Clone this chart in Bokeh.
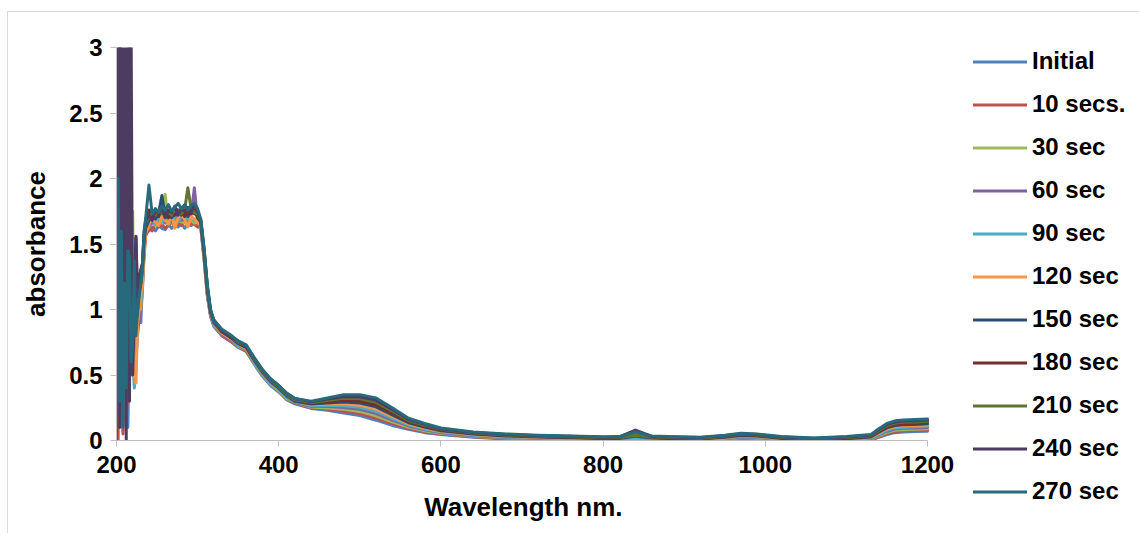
from bokeh.plotting import figure
from bokeh.models import Range1d, FixedTicker, Legend, LegendItem
from bokeh.embed import file_html
from bokeh.resources import INLINE

wavelength = [200, 202, 204, 206, 208, 210, 212, 214, 216, 218, 220, 222, 224, 226, 228, 230, 232, 234, 236,
              240, 244, 248, 252, 256, 260, 264, 268, 272, 276, 280, 284, 288, 292, 296, 300,
              304, 308, 312, 316, 320, 330, 340, 350, 360, 370, 380, 390, 400, 410, 420,
              440, 460, 480, 500, 520, 540, 560, 580, 600,
              640, 680, 720, 760, 800, 820, 840, 860, 880,
              920, 950, 970, 990, 1020, 1060, 1100, 1130,
              1140, 1150, 1160, 1170, 1185, 1200]

initial = [0.3, 1.1, 0.2, 0.9, 1.4, 0.5, 1.2, 0.1, 0.8, 1.3, 0.6, 1.0, 0.7, 0.9, 1.1, 0.9, 1.2, 1.45, 1.58,
           1.60, 1.63, 1.60, 1.64, 1.62, 1.61, 1.65, 1.62, 1.64, 1.63, 1.66, 1.62, 1.65, 1.64, 1.66, 1.64,
           1.62, 1.38, 1.10, 0.95, 0.87, 0.80, 0.76, 0.71, 0.68, 0.58, 0.49, 0.42, 0.37, 0.31, 0.28,
           0.245, 0.230, 0.210, 0.190, 0.155, 0.115, 0.085, 0.060, 0.045,
           0.025, 0.012, 0.005, 0.0, -0.005, -0.005, 0.015, -0.005, -0.005,
           -0.010, 0.0, 0.015, 0.010, -0.005, -0.010, -0.010, 0.0,
           0.025, 0.045, 0.060, 0.065, 0.068, 0.070]
sec10 = [0.1, 0.0, 2.2, 0.3, 0.05, 0.4, 0.2, 0.35, 0.9, 1.2, 0.7, 0.5, 1.1, 0.8, 0.95, 1.0, 1.15, 1.4, 1.56,
         1.62, 1.60, 1.66, 1.63, 1.65, 1.62, 1.64, 1.67, 1.63, 1.66, 1.64, 1.68, 1.64, 1.66, 1.65, 1.63,
         1.63, 1.39, 1.11, 0.95, 0.88, 0.80, 0.76, 0.72, 0.68, 0.59, 0.50, 0.43, 0.38, 0.32, 0.285,
         0.250, 0.240, 0.224, 0.206, 0.172, 0.129, 0.094, 0.067, 0.050,
         0.029, 0.016, 0.009, 0.004, -0.002, -0.002, 0.030, -0.001, -0.002,
         -0.007, 0.004, 0.019, 0.014, -0.002, -0.007, -0.006, 0.005,
         0.032, 0.054, 0.069, 0.074, 0.077, 0.080]
sec30 = [0.6, 1.3, 0.4, 1.0, 0.3, 1.5, 0.8, 1.2, 0.5, 0.9, 1.75, 0.7, 0.9, 1.0, 1.1, 1.0, 1.2, 1.5, 1.6,
         1.63, 1.67, 1.64, 1.69, 1.66, 1.88, 1.65, 1.68, 1.66, 1.70, 1.67, 1.66, 1.70, 1.68, 1.66, 1.67,
         1.64, 1.40, 1.12, 0.96, 0.88, 0.81, 0.77, 0.72, 0.69, 0.59, 0.50, 0.43, 0.38, 0.32, 0.29,
         0.256, 0.249, 0.238, 0.222, 0.189, 0.142, 0.102, 0.074, 0.055,
         0.033, 0.020, 0.012, 0.007, 0.002, 0.002, 0.005, 0.003, 0.002,
         -0.003, 0.008, 0.023, 0.018, 0.002, -0.004, -0.002, 0.009,
         0.038, 0.062, 0.078, 0.083, 0.086, 0.089]
sec60 = [0.8, 0.2, 1.2, 0.6, 1.6, 0.4, 1.0, 0.7, 1.3, 0.5, 0.8, 1.1, 0.6, 0.85, 1.05, 1.1, 1.25, 1.48, 1.6,
         1.64, 1.66, 1.70, 1.65, 1.68, 1.66, 1.71, 1.67, 1.69, 1.72, 1.68, 1.70, 1.67, 1.72, 1.93, 1.68,
         1.64, 1.41, 1.13, 0.96, 0.89, 0.81, 0.77, 0.73, 0.69, 0.60, 0.51, 0.44, 0.39, 0.33, 0.29,
         0.262, 0.259, 0.252, 0.238, 0.206, 0.156, 0.111, 0.081, 0.060,
         0.037, 0.023, 0.016, 0.011, 0.005, 0.006, 0.045, 0.007, 0.006,
         0.001, 0.012, 0.027, 0.022, 0.006, -0.001, 0.002, 0.014,
         0.045, 0.071, 0.087, 0.093, 0.096, 0.099]
sec90 = [0.5, 0.9, 0.3, 1.4, 0.7, 1.1, 0.2, 0.9, 1.2, 2.15, 0.6, 0.4, 0.55, 0.9, 1.0, 1.05, 1.2, 1.5, 1.62,
         1.66, 1.69, 1.65, 1.71, 1.67, 1.70, 1.68, 1.72, 1.69, 1.67, 1.71, 1.73, 1.69, 1.71, 1.68, 1.70,
         1.65, 1.42, 1.14, 0.97, 0.89, 0.82, 0.78, 0.73, 0.70, 0.60, 0.51, 0.44, 0.39, 0.33, 0.295,
         0.267, 0.268, 0.266, 0.254, 0.223, 0.169, 0.119, 0.088, 0.065,
         0.041, 0.027, 0.019, 0.014, 0.008, 0.009, 0.020, 0.011, 0.009,
         0.004, 0.016, 0.031, 0.026, 0.009, 0.002, 0.006, 0.018,
         0.051, 0.079, 0.096, 0.102, 0.105, 0.108]
sec120 = [0.2, 0.7, 1.0, 0.3, 0.9, 0.6, 1.3, 0.4, 0.7, 1.0, 0.8, 0.5, 0.44, 0.9, 1.0, 1.1, 1.2, 1.45, 1.58,
          1.65, 1.70, 1.67, 1.64, 1.71, 1.68, 1.66, 1.72, 1.62, 1.70, 1.73, 1.69, 1.63, 1.71, 1.69, 1.66,
          1.65, 1.42, 1.14, 0.97, 0.90, 0.82, 0.78, 0.74, 0.70, 0.61, 0.52, 0.45, 0.40, 0.34, 0.30,
          0.272, 0.278, 0.280, 0.270, 0.240, 0.183, 0.128, 0.095, 0.070,
          0.045, 0.031, 0.023, 0.018, 0.012, 0.013, 0.050, 0.015, 0.013,
          0.008, 0.020, 0.035, 0.030, 0.013, 0.005, 0.010, 0.023,
          0.058, 0.088, 0.105, 0.111, 0.114, 0.118]
sec150 = [1.0, 0.4, 3.4, 1.8, 0.6, 1.2, 0.5, 0.9, 1.1, 0.7, 0.9, 1.2, 1.55, 1.0, 1.15, 1.2, 1.3, 1.52, 1.62,
          1.68, 1.72, 1.69, 1.74, 1.87, 1.71, 1.75, 1.70, 1.73, 1.76, 1.72, 1.74, 1.71, 1.75, 1.73, 1.72,
          1.66, 1.43, 1.15, 0.98, 0.90, 0.83, 0.79, 0.74, 0.71, 0.61, 0.52, 0.45, 0.40, 0.34, 0.30,
          0.278, 0.287, 0.294, 0.286, 0.257, 0.196, 0.136, 0.102, 0.075,
          0.049, 0.035, 0.026, 0.021, 0.015, 0.016, 0.035, 0.019, 0.016,
          0.011, 0.024, 0.039, 0.034, 0.016, 0.008, 0.014, 0.027,
          0.064, 0.096, 0.114, 0.120, 0.123, 0.127]
sec180 = [0.7, 2.17, 0.9, 0.3, 1.1, 0.8, 1.4, 0.6, 0.9, 1.3, 0.7, 1.0, 1.2, 1.1, 1.2, 1.3, 1.35, 1.55, 1.66,
          1.76, 1.70, 1.74, 1.71, 1.76, 1.73, 1.70, 1.75, 1.72, 1.74, 1.77, 1.71, 1.75, 1.73, 1.76, 1.70,
          1.67, 1.44, 1.16, 0.98, 0.91, 0.83, 0.79, 0.75, 0.71, 0.62, 0.53, 0.46, 0.41, 0.35, 0.31,
          0.284, 0.297, 0.308, 0.302, 0.274, 0.210, 0.145, 0.109, 0.080,
          0.053, 0.039, 0.030, 0.025, 0.018, 0.020, 0.070, 0.023, 0.020,
          0.015, 0.028, 0.043, 0.038, 0.020, 0.011, 0.018, 0.032,
          0.071, 0.105, 0.123, 0.129, 0.132, 0.137]
sec210 = [0.4, 1.0, 0.6, 1.3, 0.5, 1.0, 0.8, 1.1, 3.5, 1.2, 0.9, 0.8, 1.0, 0.95, 1.15, 1.2, 1.3, 1.55, 1.66,
          1.70, 1.74, 1.72, 1.76, 1.73, 1.77, 1.74, 1.72, 1.78, 1.75, 1.73, 1.76, 1.93, 1.77, 1.74, 1.73,
          1.67, 1.45, 1.17, 0.99, 0.91, 0.84, 0.80, 0.75, 0.72, 0.62, 0.53, 0.46, 0.41, 0.35, 0.31,
          0.289, 0.306, 0.322, 0.318, 0.291, 0.223, 0.153, 0.116, 0.085,
          0.057, 0.042, 0.033, 0.028, 0.021, 0.023, 0.040, 0.027, 0.023,
          0.018, 0.032, 0.047, 0.042, 0.023, 0.014, 0.022, 0.036,
          0.077, 0.113, 0.132, 0.139, 0.142, 0.146]
sec240 = [0.2, 3.6, 0.1, 3.8, 0.4, 3.5, 0.0, 3.9, 0.3, 3.2, 0.5, 1.0, 1.56, 1.1, 1.25, 1.3, 1.35, 1.58, 1.68,
          1.72, 1.68, 1.76, 1.73, 1.78, 1.70, 1.76, 1.74, 1.79, 1.72, 1.77, 1.75, 1.78, 1.74, 1.80, 1.75,
          1.68, 1.46, 1.18, 0.99, 0.92, 0.84, 0.80, 0.76, 0.72, 0.63, 0.54, 0.47, 0.42, 0.36, 0.32,
          0.295, 0.316, 0.336, 0.334, 0.308, 0.237, 0.162, 0.123, 0.090,
          0.061, 0.046, 0.037, 0.032, 0.025, 0.027, 0.080, 0.031, 0.027,
          0.022, 0.036, 0.051, 0.046, 0.027, 0.017, 0.026, 0.041,
          0.084, 0.122, 0.141, 0.148, 0.151, 0.156]
sec270 = [0.0, 2.0, 0.3, 1.6, 0.1, 1.2, 0.4, 1.45, 1.4, 0.6, 0.76, 1.37, 0.8, 1.0, 1.1, 1.2, 1.35, 1.6, 1.7,
          1.95, 1.73, 1.77, 1.74, 1.79, 1.76, 1.80, 1.75, 1.78, 1.81, 1.77, 1.80, 1.76, 1.79, 1.81, 1.77,
          1.69, 1.47, 1.19, 1.00, 0.92, 0.85, 0.81, 0.76, 0.73, 0.63, 0.54, 0.47, 0.42, 0.36, 0.32,
          0.300, 0.325, 0.350, 0.350, 0.325, 0.250, 0.170, 0.130, 0.095,
          0.065, 0.050, 0.040, 0.035, 0.028, 0.030, 0.065, 0.035, 0.030,
          0.025, 0.040, 0.055, 0.050, 0.030, 0.020, 0.030, 0.045,
          0.090, 0.130, 0.150, 0.157, 0.160, 0.165]

series_names = ["Initial", "10 secs.", "30 sec", "60 sec", "90 sec", "120 sec",
                "150 sec", "180 sec", "210 sec", "240 sec", "270 sec"]
series_values = [initial, sec10, sec30, sec60, sec90, sec120, sec150, sec180, sec210, sec240, sec270]
colors = ["#4F81BD", "#C0504D", "#9BBB59", "#8064A2", "#4BACC6", "#F79646",
          "#2C4D75", "#772C2A", "#5F7530", "#4D3B62", "#276A7C"]

x_ticks = [200, 400, 600, 800, 1000, 1200]
y_ticks = [0, 0.5, 1, 1.5, 2, 2.5, 3]
y_tick_labels = ["0", "0.5", "1", "1.5", "2", "2.5", "3"]
x_axis_min, x_axis_max = 200, 1200
x_title = "Wavelength nm."
y_title = "absorbance"

FONT = "Liberation Sans"

# The frame reaches past 1200 nm up to the legend; the x axis itself is bounded at 200-1200.
AXIS_PX = 811          # pixels between 200 and 1200 nm
FRAME_PX = 857         # frame width up to where the legend starts
x_end = x_axis_min + (x_axis_max - x_axis_min) * FRAME_PX / AXIS_PX

p = figure(frame_width=FRAME_PX, frame_height=393, x_range=Range1d(x_axis_min, x_end), y_range=Range1d(0, 3),
           output_backend="svg", toolbar_location=None,
           min_border_left=108, min_border_right=0, min_border_top=35, min_border_bottom=93)
p.styles = {"margin-left": "7px", "margin-top": "11px",
            "border-left": "1px solid #d9d9d9", "border-top": "1px solid #d9d9d9"}
p.outline_line_color = None
p.xgrid.visible = False
p.ygrid.visible = False
p.background_fill_color = "white"
p.border_fill_color = "white"

items = []
for name, vals, col in zip(series_names, series_values, colors):
    r = p.line(wavelength, vals, line_color=col, line_width=3, line_join="round", line_cap="round")
    items.append(LegendItem(label=name, renderers=[r]))

for ax in (p.xaxis[0], p.yaxis[0]):
    ax.axis_line_color = "#bfbfbf"
    ax.axis_line_width = 1
    ax.major_tick_line_color = "#bfbfbf"
    ax.major_tick_out = 6
    ax.major_tick_in = 0
    ax.minor_tick_out = 0
    ax.minor_tick_in = 0
    ax.major_label_text_font = FONT
    ax.major_label_text_font_style = "bold"
    ax.major_label_text_font_size = "24px"
    ax.major_label_text_color = "black"
    ax.axis_label_text_font = FONT
    ax.axis_label_text_font_style = "bold"
    ax.axis_label_text_font_size = "26px"
    ax.axis_label_text_color = "black"

p.xaxis.bounds = (x_axis_min, x_axis_max)
p.xaxis.ticker = FixedTicker(ticks=x_ticks)
p.yaxis.ticker = FixedTicker(ticks=y_ticks)
p.yaxis.major_label_overrides = {t: s for t, s in zip(y_ticks, y_tick_labels)}
# trailing no-break spaces keep the title centred under the 200-1200 axis, not the wider frame
p.xaxis.axis_label = x_title + "\u00a0" * 6
p.yaxis.axis_label = y_title
p.xaxis.major_label_standoff = 9
p.xaxis.axis_label_standoff = 16
p.yaxis.major_label_standoff = 8
p.yaxis.axis_label_standoff = 15

legend = Legend(items=items, location="top_left", orientation="vertical",
                label_text_font=FONT, label_text_font_style="bold", label_text_font_size="24px",
                label_text_color="black", glyph_width=54, glyph_height=21, label_height=21,
                label_standoff=5, spacing=15, padding=0, margin=0,
                border_line_color=None, background_fill_alpha=0)
p.add_layout(legend, "right")

open("out.html", "w").write(file_html(p, INLINE))
